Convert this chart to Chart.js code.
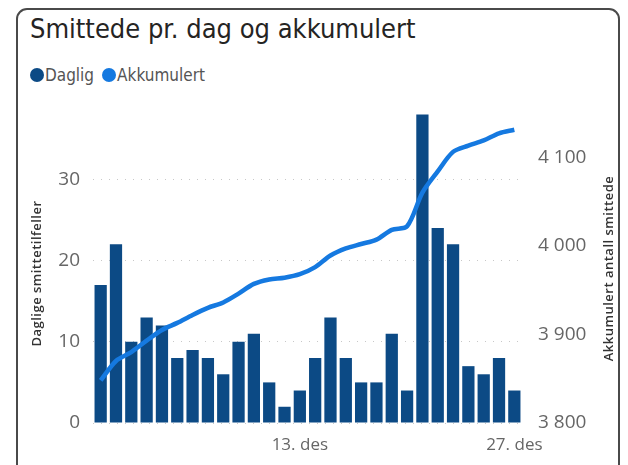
<!DOCTYPE html>
<html>
<head>
<meta charset="utf-8">
<script src="https://cdn.jsdelivr.net/npm/chart.js@4"></script>
<style>
  html, body { margin: 0; padding: 0; background: #fff; }
  body { width: 628px; height: 465px; position: relative; overflow: hidden; }
  .card {
    position: absolute; left: 16px; top: 8px; width: 604px; height: 470px;
    border: 2px solid #4a4a4a; border-radius: 11px; box-sizing: border-box;
  }
  .title {
    position: absolute; left: 30px; top: 13px;
    font-family: "Liberation Sans Narrow", "DejaVu Sans Condensed", sans-serif;
    font-size: 27px; color: #252423;
  }
  .legend {
    position: absolute; left: 30px; top: 65px; display: flex; align-items: center;
    font-family: "Liberation Sans Narrow", "DejaVu Sans Condensed", sans-serif;
    font-size: 17px; color: #555;
  }
  .legend span.dot { display: inline-block; width: 14px; height: 14px; border-radius: 50%; margin-right: 1px; }
  .legend span.txt { margin-right: 8px; }
  #wrap { position: absolute; left: 0; top: 0; width: 628px; height: 465px; }
</style>
</head>
<body>
<div class="card"></div>
<div class="title">Smittede pr. dag og akkumulert</div>
<div class="legend" id="legend"></div>
<div id="wrap"><canvas id="myChart"></canvas></div>
<script>
  // data
  var days = ["30. nov", "1. des", "2. des", "3. des", "4. des", "5. des", "6. des", "7. des",
    "8. des", "9. des", "10. des", "11. des", "12. des", "13. des", "14. des", "15. des",
    "16. des", "17. des", "18. des", "19. des", "20. des", "21. des", "22. des", "23. des",
    "24. des", "25. des", "26. des", "27. des"];
  var daily = [17, 22, 10, 13, 12, 8, 9, 8, 6, 10, 11, 5, 2, 4, 8, 13, 8, 5, 5, 11, 4, 38, 24, 22, 7, 6, 8, 4];
  var cumulative = [3848, 3870, 3880, 3893, 3905, 3913, 3922, 3930, 3936, 3946, 3957, 3962, 3964, 3968,
    3976, 3989, 3997, 4002, 4007, 4018, 4022, 4060, 4084, 4106, 4113, 4119, 4127, 4131];
  var shownDays = ["13. des", "27. des"];
  var leftTicks = [0, 10, 20, 30];
  var rightTicks = [3800, 3900, 4000, 4100];

  var barColor = "#0c4a85";
  var lineColor = "#1579e0";
  var tickFont = { family: "'Open Sans', 'Noto Sans', sans-serif", size: 19 };

  // legend in html, same order as the reference
  var legendItems = [["Daglig", barColor], ["Akkumulert", lineColor]];
  document.getElementById("legend").innerHTML = legendItems.map(function (it) {
    return '<span class="dot" style="background:' + it[1] + '"></span><span class="txt">' + it[0] + '</span>';
  }).join("");

  // both axis titles read bottom-to-top, drawn by hand
  var axisTitles = {
    id: "axisTitles",
    afterDraw(chart) {
      const ctx = chart.ctx;
      const area = chart.chartArea;
      const mid = (area.top + area.bottom) / 2;
      ctx.save();
      ctx.fillStyle = "#333";
      ctx.font = "600 13px 'Open Sans', 'Noto Sans', sans-serif";
      ctx.letterSpacing = "0.5px";
      ctx.textAlign = "center";
      ctx.textBaseline = "middle";
      ctx.translate(37, mid + 6);
      ctx.rotate(-Math.PI / 2);
      ctx.fillText("Daglige smittetilfeller", 0, 0);
      ctx.restore();
      ctx.save();
      ctx.fillStyle = "#333";
      ctx.font = "600 13px 'Open Sans', 'Noto Sans', sans-serif";
      ctx.letterSpacing = "0.5px";
      ctx.textAlign = "center";
      ctx.textBaseline = "middle";
      ctx.translate(609, mid + 1);
      ctx.rotate(-Math.PI / 2);
      ctx.fillText("Akkumulert antall smittede", 0, 0);
      ctx.restore();
    }
  };

  new Chart("myChart", {
    data: {
      labels: days,
      datasets: [{
        type: "line",
        label: "Akkumulert",
        data: cumulative,
        yAxisID: "y1",
        borderColor: lineColor,
        backgroundColor: lineColor,
        borderWidth: 4.5,
        pointRadius: 0,
        tension: 0.3,
        order: 0
      }, {
        type: "bar",
        label: "Daglig",
        data: daily,
        yAxisID: "y",
        backgroundColor: barColor,
        barPercentage: 0.8,
        categoryPercentage: 1,
        order: 1
      }]
    },
    options: {
      responsive: true,
      maintainAspectRatio: false,
      animation: false,
      layout: { padding: { left: 28, right: 10, top: 112, bottom: 0 } },
      plugins: {
        tooltip: { enabled: false },
        legend: { display: false }
      },
      scales: {
        x: {
          grid: { display: false },
          border: { display: false },
          ticks: {
            autoSkip: false,
            maxRotation: 0,
            padding: 4,
            color: "#666",
            font: { family: "'Open Sans', 'Noto Sans', sans-serif", size: 17 },
            callback: function (v, i) {
              return shownDays.indexOf(days[i]) >= 0 ? days[i] : "";
            }
          },
          afterFit: function (s) { s.height = 42; }
        },
        y: {
          position: "left",
          min: 0,
          max: 38.3,
          afterBuildTicks: function (s) {
            s.ticks = leftTicks.map(function (v) { return { value: v }; });
          },
          grid: { color: "#c8c8c8", lineWidth: 1, drawTicks: false },
          border: { display: false, dash: [1, 7] },
          ticks: { padding: 13, color: "#666", font: tickFont },
          afterFit: function (s) { s.width = 65; }
        },
        y1: {
          position: "right",
          min: 3800,
          max: 4151,
          afterBuildTicks: function (s) {
            s.ticks = rightTicks.map(function (v) { return { value: v }; });
          },
          grid: { display: false, drawTicks: false },
          border: { display: false },
          ticks: {
            padding: 16,
            color: "#666",
            font: tickFont,
            callback: function (v) { return String(v).replace(/\B(?=(\d{3})+(?!\d))/g, " "); }
          },
          afterFit: function (s) { s.width = 96; }
        }
      }
    },
    plugins: [axisTitles]
  });
</script>
</body>
</html>
